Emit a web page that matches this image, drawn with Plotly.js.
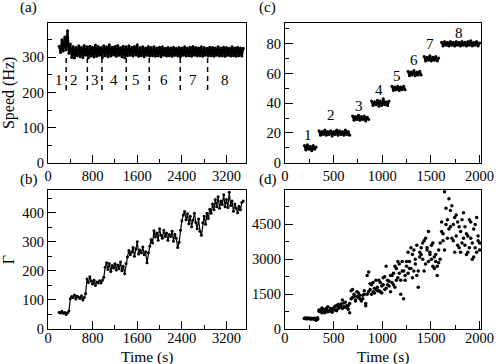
<!DOCTYPE html>
<html>
<head>
<meta charset="utf-8">
<script src="https://cdn.plot.ly/plotly-3.0.1.min.js"></script>
<style>
  body { margin: 0; background: #fff; }
  #myDiv { width: 498px; height: 364px; }
</style>
</head>
<body>
<div id="myDiv"></div>
<script>
// time grid of panels (a) and (b), seconds
const timeLong = [
  200, 225, 250, 275, 300, 325, 350, 375, 400, 425,
  450, 475, 500, 525, 550, 575, 600, 625, 650, 675,
  700, 725, 750, 775, 800, 825, 850, 875, 900, 925,
  950, 975, 1000, 1025, 1050, 1075, 1100, 1125, 1150, 1175,
  1200, 1225, 1250, 1275, 1300, 1325, 1350, 1375, 1400, 1425,
  1450, 1475, 1500, 1525, 1550, 1575, 1600, 1625, 1650, 1675,
  1700, 1725, 1750, 1775, 1800, 1825, 1850, 1875, 1900, 1925,
  1950, 1975, 2000, 2025, 2050, 2075, 2100, 2125, 2150, 2175,
  2200, 2225, 2250, 2275, 2300, 2325, 2350, 2375, 2400, 2425,
  2450, 2475, 2500, 2525, 2550, 2575, 2600, 2625, 2650, 2675,
  2700, 2725, 2750, 2775, 2800, 2825, 2850, 2875, 2900, 2925,
  2950, 2975, 3000, 3025, 3050, 3075, 3100, 3125, 3150, 3175,
  3200, 3225, 3250, 3275, 3300, 3325, 3350, 3375, 3400, 3425,
  3450, 3475, 3500
];

// (a) speed (Hz)
const speedA = [
  332, 314, 350, 318, 358, 322, 376, 312, 338, 300,
  331, 298, 328, 305, 333, 302, 329, 300, 334, 306,
  330, 299, 332, 304, 329, 301, 335, 303, 331, 306,
  328, 300, 333, 305, 330, 302, 336, 304, 329, 307,
  331, 303, 334, 306, 328, 302, 332, 299, 330, 305,
  333, 306, 329, 304, 331, 307, 336, 303, 328, 305,
  330, 302, 327, 306, 331, 304, 328, 305, 330, 303,
  327, 305, 329, 302, 330, 306, 326, 304, 328, 305,
  327, 303, 329, 306, 326, 304, 328, 302, 327, 306,
  330, 304, 327, 305, 329, 303, 331, 306, 328, 304,
  327, 305, 330, 303, 328, 306, 326, 304, 329, 305,
  328, 303, 327, 306, 330, 304, 327, 305, 329, 303,
  328, 306, 326, 304, 330, 305, 327, 303, 329, 305,
  327, 304, 326
];

// (b) Gamma
const gammaB = [
  58, 55, 61, 54, 57, 50, 56, 62, 104, 112,
  108, 117, 103, 113, 109, 105, 114, 100, 108, 122,
  172, 160, 180, 165, 155, 168, 150, 162, 158, 166,
  158, 168, 178, 212, 228, 205, 225, 198, 218, 210,
  224, 203, 220, 207, 230, 200, 216, 190, 225, 248,
  270, 255, 265, 280, 250, 275, 300, 258, 272, 262,
  282, 255, 266, 228, 262, 285, 308, 296, 338, 316,
  330, 305, 345, 322, 312, 340, 318, 330, 305, 325,
  318, 336, 302, 326, 312, 280, 298, 340, 372, 392,
  404, 376, 396, 362, 388, 352, 374, 398, 366, 345,
  378, 336, 322, 365, 388, 360, 398, 380, 412, 398,
  430, 410, 445, 420, 455, 415, 440, 428, 462, 420,
  445, 418, 470, 425, 440, 405, 430, 415, 400, 422,
  410, 435, 440
];

// switching times and step labels of panel (a)
const switchTimesA = [326, 705, 967, 1403, 1815, 2371, 2861];
const stepLabels = ["1", "2", "3", "4", "5", "6", "7", "8"];
const labelTimesA = [206, 470, 834, 1175, 1582, 2072, 2598, 3179];

// time grid of panels (c) and (d), seconds
const timeShort = [
  200, 215, 230, 245, 260, 275, 290, 305, 320, 335,
  350, 365, 380, 395, 410, 425, 440, 455, 470, 485,
  500, 515, 530, 545, 560, 575, 590, 605, 620, 635,
  650, 665, 680, 695, 710, 725, 740, 755, 770, 785,
  800, 815, 830, 845, 860, 875, 890, 905, 920, 935,
  950, 965, 980, 995, 1010, 1025, 1040, 1055, 1070, 1085,
  1100, 1115, 1130, 1145, 1160, 1175, 1190, 1205, 1220, 1235,
  1250, 1265, 1280, 1295, 1310, 1325, 1340, 1355, 1370, 1385,
  1400, 1415, 1430, 1445, 1460, 1475, 1490, 1505, 1520, 1535,
  1550, 1565, 1580, 1595, 1610, 1625, 1640, 1655, 1670, 1685,
  1700, 1715, 1730, 1745, 1760, 1775, 1790, 1805, 1820, 1835,
  1850, 1865, 1880, 1895, 1910, 1925, 1940, 1955, 1970, 1985,
  2000
];

// (c) load steps (null = gap between steps)
const loadC = [
  11.5, 8.5, 12, 9, 11, 8, 11.5, 9, 10.5, null,
  21.5, 18.5, 21, 19, 22, 18.5, 21, 19, 21.5, 18,
  21, 19, 22, 18.5, 21.5, 19, 21, 18.5, 22, 19,
  21, 18.5, null, 31.5, 28.5, 31, 29, 32, 28.5, 31,
  29, 31.5, 28, 30.5, 29, null, 41.5, 38.5, 41, 39,
  42, 38, 41.5, 38.5, 43, 39, 41, 38.5, 41.5, null,
  51.5, 48.5, 51, 49, 51.5, 48.5, 51, 49, 51.5, 49,
  null, 61.5, 58.5, 61, 59, 62, 58.5, 61, 59, 61.5,
  59, null, 71.5, 68.5, 71, 69, 72, 68.5, 71, 69,
  71.5, 68.5, 70.5, null, 81, 78.5, 81.5, 79, 81, 78.5,
  81.5, 79, 81, 78.5, 81.5, 79, 81, 78.5, 81.5, 79,
  81, 78.5, 81.5, 79, 82, 78.5, 81, 79, 81.5, 78.5,
  80.5
];
const labelTimesC = [239, 477, 761, 966, 1151, 1325, 1486, 1786];
const labelLoadC = [18.7, 32.2, 38.3, 49.1, 58.6, 69.4, 80, 87.4];

// (d) two sweeps of readings
const gammaD1 = [
  450, 470, 440, 460, 455, 430, 445, 465, 380, 420,
  760, 820, 700, 850, 790, 880, 740, 800, 860, 720,
  900, 820, 1000, 870, 950, 1080, 880, 1120, 940, 1000,
  850, 1100, 1650, 1350, 1500, 1250, 1400, 1550, 1300, 1200,
  1450, 1650, 1100, 1500, 2450, 1700, 1900, 1600, 1750, 2100,
  1800, 1650, 2000, 1550, 1900, 2250, 1750, 2100, 1850, 2300,
  2000, 2400, 1800, 2600, 2200, 2800, 2100, 2500, 1300, 2300,
  2700, 2400, 2900, 2600, 3200, 2500, 3000, 2300, 1800, 3100,
  3500, 3000, 3800, 2800, 3400, 4200, 3200, 3600, 2700, 3100,
  2900, 2300, 3400, 3000, 4200, 3800, 5900, 4500, 3900, 5600,
  4400, 5300, 3800, 4800, 4000, 4600, 3500, 4200, 3700, 5000,
  3600, 4100, 3300, 4700, 3900, 3000, 4300, 3500, 4800, 3800,
  3400
];
const gammaD2 = [
  460, 440, 470, 450, 430, 465, 450, 420, 400, 480,
  820, 740, 900, 780, 700, 840, 960, 760, 880, 810,
  860, 980, 780, 1050, 920, 1000, 1250, 960, 1150, 920,
  1000, 700, 1300, 1700, 1400, 1200, 1600, 1350, 1450, 1250,
  1300, 1500, 1000, 2300, 1600, 1950, 1500, 2000, 1550, 1700,
  1650, 2100, 1600, 1850, 2200, 1700, 2700, 1900, 2050, 1600,
  2300, 1900, 2700, 2100, 2900, 2400, 1500, 2900, 2500, 2100,
  2900, 3300, 2600, 3500, 2200, 3400, 2800, 3600, 2500, 3300,
  3200, 3700, 2500, 3900, 3500, 2900, 3300, 3000, 3700, 2600,
  3200, 2700, 2850, 3700, 4600, 4100, 3400, 5200, 4700, 4300,
  5100, 3900, 4500, 3300, 4900, 3600, 4400, 3300, 4700, 3900,
  4400, 3200, 4000, 3500, 4600, 3700, 3100, 4500, 3300, 4000,
  3700
];

const serif = "Liberation Serif";
const dots = { color: "#000", size: 3 };

const data = [
  { x: timeLong, y: speedA, xaxis: "x", yaxis: "y", type: "scatter",
    mode: "lines+markers", line: { color: "#000", width: 2.2 }, marker: dots },
  { x: timeLong, y: gammaB, xaxis: "x2", yaxis: "y2", type: "scatter",
    mode: "lines+markers", line: { color: "#000", width: 1.2 }, marker: dots },
  { x: timeShort, y: loadC, xaxis: "x3", yaxis: "y3", type: "scatter",
    mode: "lines+markers", connectgaps: false,
    line: { color: "#000", width: 2.2 }, marker: dots },
  { x: timeShort, y: gammaD1, xaxis: "x4", yaxis: "y4", type: "scatter",
    mode: "markers", marker: { color: "#000", size: 3.5 } },
  { x: timeShort, y: gammaD2, xaxis: "x4", yaxis: "y4", type: "scatter",
    mode: "markers", marker: { color: "#000", size: 3.5 } },
];

// common axis look: box frame, inside ticks, minor ticks
function ax(extra, minorStep) {
  return Object.assign({
    showline: true, mirror: true, linecolor: "#000", linewidth: 1,
    showgrid: false, zeroline: false,
    ticks: "inside", ticklen: 8, tickcolor: "#000", tickwidth: 1,
    tickfont: { family: serif, size: 14.5, color: "#000" },
    minor: { ticks: "inside", ticklen: 4, tickcolor: "#000", dtick: minorStep },
  }, extra);
}

const titleFont = { family: serif, size: 16, color: "#000" };
const timeFont = { family: serif, size: 15.5, color: "#000" };

const layout = {
  width: 498, height: 364,
  margin: { l: 48, r: 17, t: 23, b: 35 },
  paper_bgcolor: "#fff", plot_bgcolor: "#fff",
  showlegend: false,
  font: { family: serif, color: "#000" },
  xaxis: ax({ domain: [0, 0.4573], anchor: "y", range: [0, 3550], dtick: 800 }, 400),
  yaxis: ax({ domain: [0.5435, 1], anchor: "x", range: [0, 398], dtick: 100,
    title: { text: "Speed (Hz)", font: titleFont, standoff: 3 } }, 50),
  xaxis2: ax({ domain: [0, 0.4573], anchor: "y2", range: [0, 3550], dtick: 800,
    ticklabelstandoff: -4 }, 400),
  yaxis2: ax({ domain: [0, 0.4542], anchor: "x2", range: [0, 478], dtick: 100,
    title: { text: "Γ", font: titleFont, standoff: 3 } }, 50),
  xaxis3: ax({ domain: [0.5473, 1], anchor: "y3", range: [0, 2015], dtick: 500 }, 250),
  yaxis3: ax({ domain: [0.5435, 1], anchor: "x3", range: [0, 94], dtick: 20 }, 10),
  xaxis4: ax({ domain: [0.5473, 1], anchor: "y4", range: [0, 2015], dtick: 500,
    ticklabelstandoff: -4 }, 250),
  yaxis4: ax({ domain: [0, 0.4542], anchor: "x4", range: [0, 5980], dtick: 1500 }, 750),
  shapes: switchTimesA.map(t => ({
    type: "line", xref: "x", yref: "y", x0: t, x1: t, y0: 207, y1: 300,
    line: { color: "#000", width: 1.5, dash: "5px,4px" },
  })),
  annotations: [],
};

const panelFont = { family: serif, size: 15, color: "#000" };
[["(a)", -0.045, 1.0507], ["(b)", -0.045, 0.487],
 ["(c)", 0.508, 1.0507], ["(d)", 0.508, 0.487]].forEach(p => {
  layout.annotations.push({ text: p[0], xref: "paper", yref: "paper",
    x: p[1], y: p[2], xanchor: "center", yanchor: "middle",
    showarrow: false, font: panelFont });
});

// bottom x titles, placed just under the tick labels
[0.2287, 0.7737].forEach(px => {
  layout.annotations.push({ text: "Time (s)", xref: "paper", yref: "paper",
    x: px, y: -0.091, xanchor: "center", yanchor: "middle",
    showarrow: false, font: timeFont });
});

stepLabels.forEach((s, i) => {
  layout.annotations.push({ text: s, xref: "x", yref: "y",
    x: labelTimesA[i], y: 237, showarrow: false, font: panelFont });
  layout.annotations.push({ text: s, xref: "x3", yref: "y3",
    x: labelTimesC[i], y: labelLoadC[i], showarrow: false, font: panelFont });
});

Plotly.newPlot("myDiv", data, layout, { displayModeBar: false });
</script>
</body>
</html>
